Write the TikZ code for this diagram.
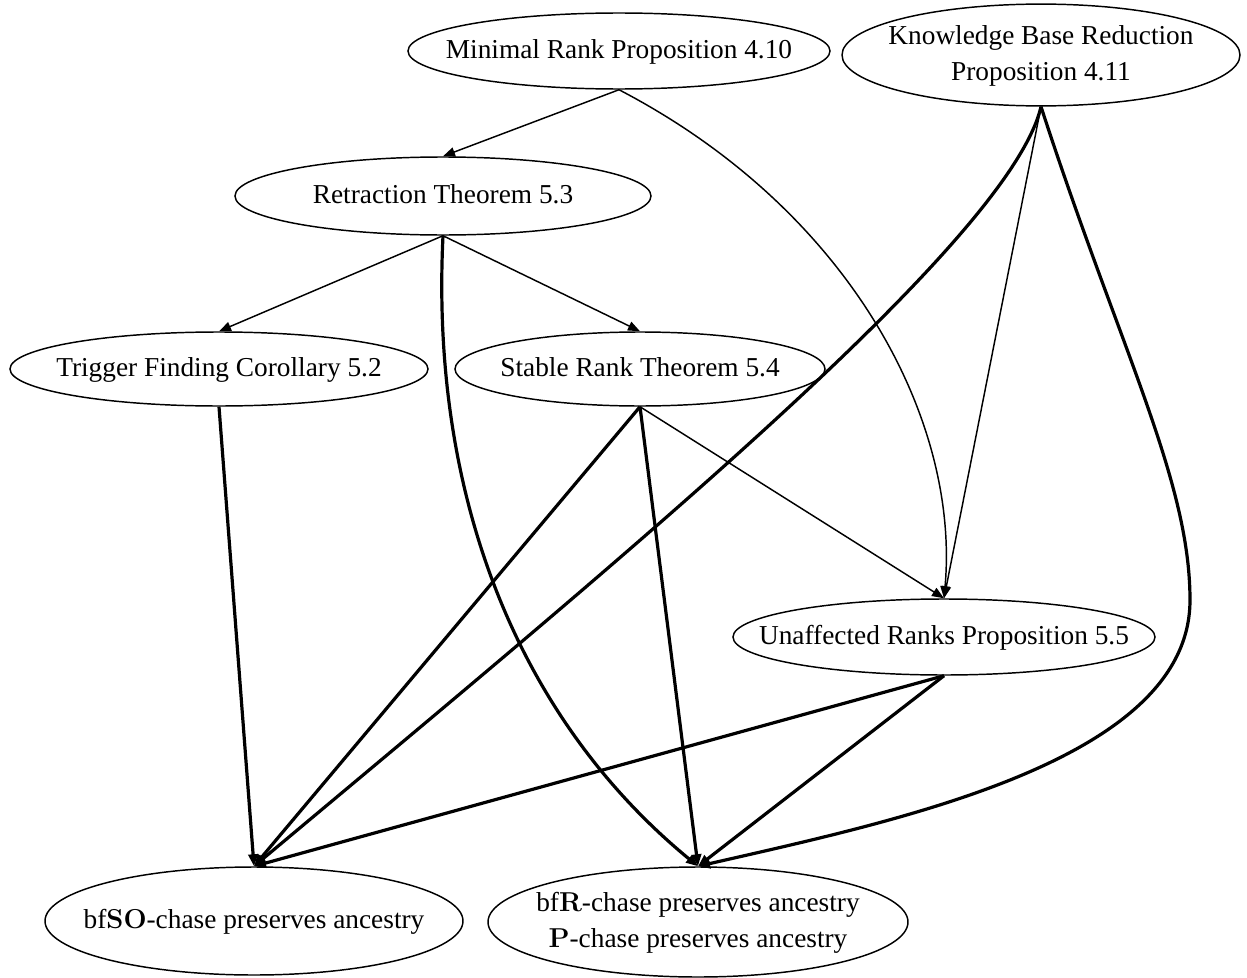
\documentclass[tikz,border=0pt]{standalone}
\usepackage{fontspec}
\setmainfont{Liberation Serif}
\newfontfamily\cmroman{Latin Modern Roman}
\usepackage{tikz}
\usetikzlibrary{arrows.meta,shapes.geometric}
\tikzset{
  res/.style={ellipse, draw, line width=1.1pt, inner sep=0pt, font=\fontsize{20.5}{27}\selectfont},
  dims/.style 2 args={minimum width=#1*0.75pt, minimum height=#2*0.75pt},
  dep/.style={-{Triangle[length=9pt,width=7pt]}, line width=1.1pt},
  keydep/.style={-{Triangle[length=9pt,width=7pt]}, line width=2.4pt}
}
\newcommand{\lbl}[1]{\makebox[0pt]{\begin{tabular}{@{}c@{}}#1\end{tabular}}}
\newcommand{\bfcm}[1]{{\cmroman\bfseries #1}}

\begin{document}
\begin{tikzpicture}[x=0.75pt,y=-0.75pt]
  \useasboundingbox (0,0) rectangle (1247,978);
  % results
  \node[res, dims={422}{76}] (min) at (619,51) {\lbl{Minimal Rank Proposition 4.10}};
  \node[res, dims={398}{96}] (kb) at (1041,55) {\lbl{Knowledge Base Reduction\\Proposition 4.11}};
  \node[res, dims={416}{78}] (ret) at (443,196) {\lbl{Retraction Theorem 5.3}};
  \node[res, dims={418}{74}] (trig) at (219,369) {\lbl{Trigger Finding Corollary 5.2}};
  \node[res, dims={370}{74}] (stab) at (640,369) {\lbl{Stable Rank Theorem 5.4}};
  \node[res, dims={422}{76}] (unaff) at (944,637) {\lbl{Unaffected Ranks Proposition 5.5}};
  \node[res, dims={418}{108}] (so) at (254,921) {\lbl{bf\bfcm{SO}-chase preserves ancestry}};
  \node[res, dims={420}{110}] (rp) at (698,922) {\lbl{bf\bfcm{R}-chase preserves ancestry\\\bfcm{P}-chase preserves ancestry}};
  % thin dependencies
  \draw[dep] (min.south) -- (ret.north);
  \draw[dep] (min.south) .. controls (850,210) and (960,420) .. (unaff.north);
  \draw[dep] (kb.south) -- (unaff.north);
  \draw[dep] (ret.south) -- (trig.north);
  \draw[dep] (ret.south) -- (stab.north);
  \draw[dep] (stab.south) -- (unaff.north);
  % thick dependencies
  \draw[keydep] (kb.south) .. controls (1010,240) and (620,560) .. (so.north);
  \draw[keydep] (kb.south) .. controls (1120,350) and (1190,480) .. (1190,600)
    .. controls (1190,760) and (900,820) .. (rp.north);
  \draw[keydep] (ret.south) .. controls (430,500) and (520,720) .. (rp.north);
  \draw[keydep] (trig.south) -- (so.north);
  \draw[keydep] (stab.south) -- (so.north);
  \draw[keydep] (stab.south) -- (rp.north);
  \draw[keydep] (unaff.south) -- (so.north);
  \draw[keydep] (unaff.south) -- (rp.north);
\end{tikzpicture}
\end{document}
